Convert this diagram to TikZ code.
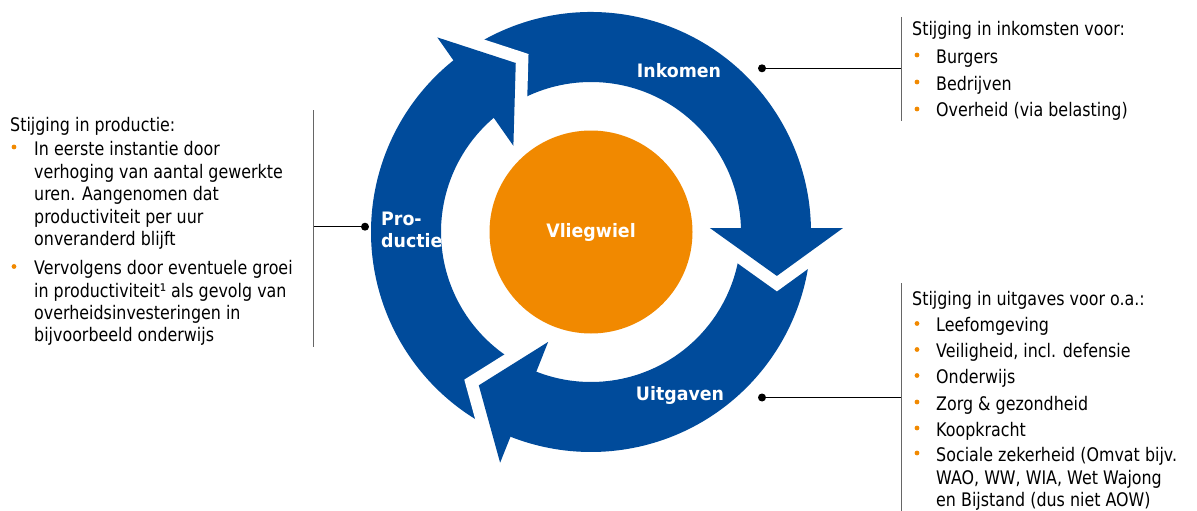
\documentclass[tikz,border=0pt]{standalone}
\usepackage{fontspec}
\setmainfont{DejaVu Sans}[FakeStretch=0.85]
\newfontfamily\lblfont{DejaVu Sans}[FakeStretch=0.94]
\definecolor{ringblue}{RGB}{0,75,155}
\definecolor{wheelorange}{RGB}{241,137,0}
\begin{document}
\begin{tikzpicture}[x=1pt,y=-1pt,
  txt/.style={anchor=base west, inner sep=0pt, font=\fontsize{18.7}{22}\selectfont, text=black},
  lbl/.style={inner sep=0pt, text=white, font={\lblfont\bfseries\fontsize{18.5}{22}\selectfont}},
  bul/.style={circle, fill=wheelorange, inner sep=0pt, minimum size=4.8pt},
  dotm/.style={circle, fill=black, inner sep=0pt, minimum size=8pt},
  leader/.style={line width=1.2pt, black},
  rulel/.style={line width=1pt, black!60},
  gapline/.style={white, line width=25pt, line join=miter, miter limit=20},
]
\useasboundingbox (0,0) rectangle (1197,511);

% ---------------- ring of arrows ----------------
\begin{scope}[shift={(591,232)}, y=1pt]
  % bodies
  \fill[ringblue] (239.8:220) arc[start angle=239.8, end angle=128, radius=220]
     -- (128:150) arc[start angle=128, end angle=239.8, radius=150] -- cycle;
  \fill[ringblue] (119.4:220) arc[start angle=119.4, end angle=0.5, radius=220]
     -- (0.5:150) arc[start angle=0.5, end angle=119.4, radius=150] -- cycle;
  \fill[ringblue] (-7.8:220) arc[start angle=-7.8, end angle=-111.8, radius=220]
     -- (-111.8:150) arc[start angle=-111.8, end angle=-7.8, radius=150] -- cycle;
  % heads (white gap first, then the head)
  \draw[gapline] (128.3:248) -- (114:185) -- (132:116);
  \fill[ringblue] (128.3:248) -- (114:185) -- (132:116) -- cycle;
  \draw[gapline] (0.9:252) -- (-13.3:191) -- (1.9:119);
  \fill[ringblue] (0.9:252) -- (-13.3:191) -- (1.9:119) -- cycle;
  \draw[gapline] (-111.5:248) -- (-126.2:190) -- (-111.3:118);
  \fill[ringblue] (-111.5:248) -- (-126.2:190) -- (-111.3:118) -- cycle;
\end{scope}

\node[circle, fill=wheelorange, minimum size=203pt, inner sep=0pt] (wheel) at (591,232) {};
\node[lbl] (vlieg) at (591,232) {Vliegwiel};

\node[lbl, anchor=base] (inkomen) at (679,77.3) {Inkomen};
\node[lbl, anchor=base] (uitgaven) at (680,400) {Uitgaven};
\node[lbl, anchor=base west] (pro) at (381,225) {Pro-};
\node[lbl, anchor=base west] (ductie) at (381,247) {ductie};

% ---------------- leaders ----------------
\node[dotm] (dI) at (762,68.3) {};
\coordinate (cI) at (901,68.3);
\coordinate (vIt) at (901,17);
\coordinate (vIb) at (901,121);
\draw[leader] (dI.center) -- (cI);
\draw[rulel] (vIt) -- (vIb);

\node[dotm] (dU) at (762,397.5) {};
\coordinate (cU) at (901,397.5);
\coordinate (vUt) at (901,283);
\coordinate (vUb) at (901,511);
\draw[leader] (dU.center) -- (cU);
\draw[rulel] (vUt) -- (vUb);

\node[dotm] (dP) at (365,226.7) {};
\coordinate (cP) at (313,226.7);
\coordinate (vPt) at (313,110);
\coordinate (vPb) at (313,347);
\draw[leader] (dP.center) -- (cP);
\draw[rulel] (vPt) -- (vPb);

% ---------------- right top text ----------------
\node[txt] (rt0) at (912,36) {Stijging in inkomsten voor:};
\node[bul] (rb1) at (917,55) {};
\node[txt] (rt1) at (936,63.5) {Burgers};
\node[bul] (rb2) at (917,82) {};
\node[txt] (rt2) at (936,90.5) {Bedrijven};
\node[bul] (rb3) at (917,109) {};
\node[txt] (rt3) at (936,117) {Overheid (via belasting)};

% ---------------- right bottom text ----------------
\node[txt] (rs0) at (912,305) {Stijging in uitgaves voor o.a.:};
\node[bul] (sb1) at (917,323.5) {};
\node[txt] (rs1) at (936,331.5) {Leefomgeving};
\node[bul] (sb2) at (917,349.5) {};
\node[txt] (rs2) at (936,357.5) {Veiligheid, incl. defensie};
\node[bul] (sb3) at (917,375.5) {};
\node[txt] (rs3) at (936,383.5) {Onderwijs};
\node[bul] (sb4) at (917,402) {};
\node[txt] (rs4) at (936,410) {Zorg \& gezondheid};
\node[bul] (sb5) at (917,428) {};
\node[txt] (rs5) at (936,436) {Koopkracht};
\node[bul] (sb6) at (917,453) {};
\node[txt] (rs6) at (936,461) {Sociale zekerheid (Omvat bijv.};
\node[txt] (rs7) at (936,484.5) {WAO, WW, WIA, Wet Wajong};
\node[txt] (rs8) at (936,506.5) {en Bijstand (dus niet AOW)};

% ---------------- left text ----------------
\node[txt] (l0) at (10,131.5) {Stijging in productie:};
\node[bul] (lb1) at (14,147) {};
\node[txt] (l1) at (34,155) {In eerste instantie door};
\node[txt] (l2) at (34,178) {verhoging van aantal gewerkte};
\node[txt] (l3) at (34,200.5) {uren. Aangenomen dat};
\node[txt] (l4) at (34,223) {productiviteit per uur};
\node[txt] (l5) at (34,245.5) {onveranderd blijft};
\node[bul] (lb2) at (14,266.5) {};
\node[txt] (l6) at (34,274.5) {Vervolgens door eventuele groei};
\node[txt] (l7) at (34,297.5) {in productiviteit¹ als gevolg van};
\node[txt] (l8) at (34,319.5) {overheidsinvesteringen in};
\node[txt] (l9) at (34,341.5) {bijvoorbeeld onderwijs};
\end{tikzpicture}
\end{document}
